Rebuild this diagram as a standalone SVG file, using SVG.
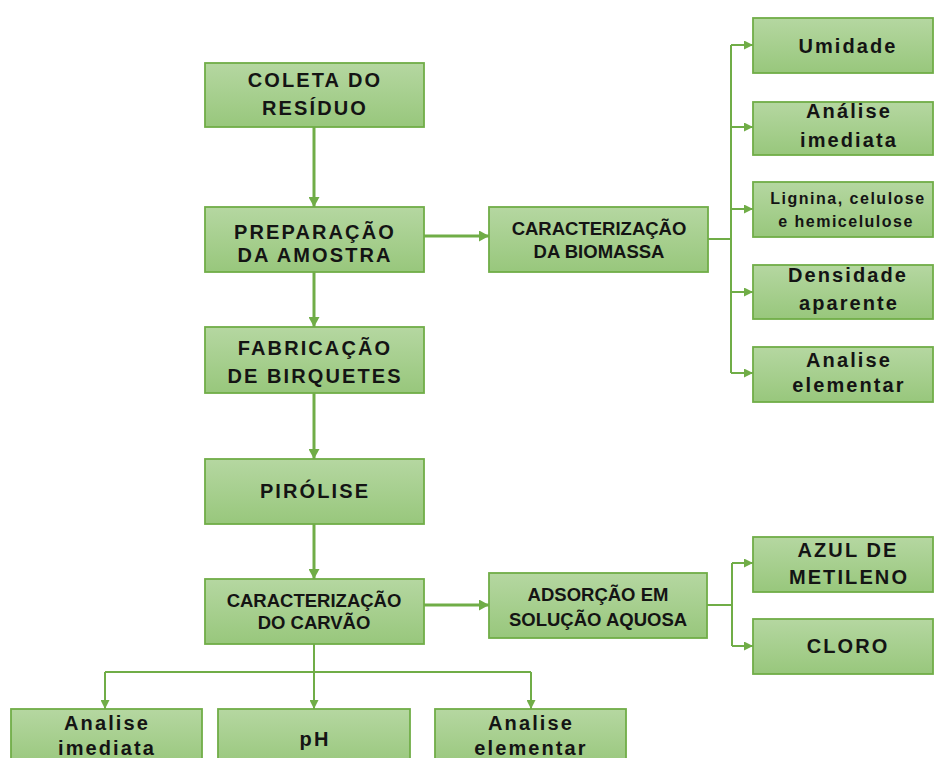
<svg xmlns="http://www.w3.org/2000/svg" width="934" height="758" viewBox="0 0 934 758">
<defs>
<linearGradient id="g" x1="0" y1="0" x2="0" y2="1">
<stop offset="0" stop-color="#b5d7a1"/>
<stop offset="1" stop-color="#98c77c"/>
</linearGradient>
<marker id="am" markerUnits="userSpaceOnUse" markerWidth="11" markerHeight="11" refX="10" refY="5.5" orient="auto">
<path d="M0,0 L10,5.5 L0,11 z" fill="#70ad47"/>
</marker>
<marker id="as" markerUnits="userSpaceOnUse" markerWidth="9" markerHeight="9" refX="9" refY="4.5" orient="auto">
<path d="M0,0 L9,4.5 L0,9 z" fill="#70ad47"/>
</marker>
</defs>
<style>
.box{fill:url(#g);stroke:#70ad47;stroke-width:1.8}
text{font-family:"Liberation Sans",Arial,sans-serif;font-weight:bold;fill:#141414;text-anchor:middle}
.sp{font-size:20px;letter-spacing:2.1px}
.ns{font-size:18.5px}
.sm{font-size:16px;letter-spacing:1.5px}
.main{fill:none;stroke:#70ad47;stroke-width:3;marker-end:url(#am)}
.br{fill:none;stroke:#70ad47;stroke-width:2}
.bra{fill:none;stroke:#70ad47;stroke-width:2;marker-end:url(#as)}
</style>
<rect width="934" height="758" fill="#ffffff"/>
<g id="connectors">
<line class="main" x1="314" y1="127" x2="314" y2="207"/>
<line class="main" x1="314" y1="272" x2="314" y2="327"/>
<line class="main" x1="314" y1="393" x2="314" y2="459"/>
<line class="main" x1="314" y1="524" x2="314" y2="579"/>
<line class="main" x1="424" y1="236" x2="489" y2="236"/>
<line class="main" x1="424" y1="605" x2="489" y2="605"/>
<polyline class="br" points="708,239 731,239"/>
<line class="br" x1="731" y1="45" x2="731" y2="373"/>
<line class="bra" x1="731" y1="45" x2="753" y2="45"/>
<line class="bra" x1="731" y1="127" x2="753" y2="127"/>
<line class="bra" x1="731" y1="209" x2="753" y2="209"/>
<line class="bra" x1="731" y1="292" x2="753" y2="292"/>
<line class="bra" x1="731" y1="373" x2="753" y2="373"/>
<polyline class="br" points="707,605 732,605"/>
<line class="br" x1="732" y1="563" x2="732" y2="646"/>
<line class="bra" x1="732" y1="563" x2="753" y2="563"/>
<line class="bra" x1="732" y1="646" x2="753" y2="646"/>
<line class="br" x1="314" y1="644" x2="314" y2="672"/>
<line class="br" x1="105" y1="672" x2="531" y2="672"/>
<line class="bra" x1="105" y1="672" x2="105" y2="709"/>
<line class="bra" x1="314" y1="672" x2="314" y2="709"/>
<line class="bra" x1="531" y1="672" x2="531" y2="709"/>
</g>
<g id="coleta"><rect class="box" x="205" y="63" width="219" height="64"/>
<text class="sp" x="315" y="87">COLETA DO</text><text class="sp" x="315" y="115">RESÍDUO</text></g>
<g id="preparacao"><rect class="box" x="205" y="207" width="219" height="65"/>
<text class="sp" x="315" y="239">PREPARAÇÃO</text><text class="sp" x="315" y="262">DA AMOSTRA</text></g>
<g id="fabricacao"><rect class="box" x="205" y="327" width="219" height="66"/>
<text class="sp" x="315" y="355">FABRICAÇÃO</text><text class="sp" x="315" y="383">DE BIRQUETES</text></g>
<g id="pirolise"><rect class="box" x="205" y="459" width="219" height="65"/>
<text class="sp" x="315" y="498">PIRÓLISE</text></g>
<g id="carvao"><rect class="box" x="205" y="579" width="219" height="65"/>
<text class="ns" x="314" y="607">CARACTERIZAÇÃO</text><text class="ns" x="314" y="629">DO CARVÃO</text></g>
<g id="biomassa"><rect class="box" x="489" y="207" width="219" height="65"/>
<text class="ns" x="599" y="235">CARACTERIZAÇÃO</text><text class="ns" x="599" y="258">DA BIOMASSA</text></g>
<g id="adsorcao"><rect class="box" x="489" y="573" width="218" height="65"/>
<text class="ns" x="598" y="601">ADSORÇÃO EM</text><text class="ns" x="598" y="626">SOLUÇÃO AQUOSA</text></g>
<g id="umidade"><rect class="box" x="753" y="18" width="180" height="55"/>
<text class="sp" x="848" y="53">Umidade</text></g>
<g id="analise-imediata-b"><rect class="box" x="753" y="102" width="180" height="53"/>
<text class="sp" x="849" y="118">Análise</text><text class="sp" x="849" y="147">imediata</text></g>
<g id="lignina"><rect class="box" x="753" y="182" width="180" height="55"/>
<text class="sm" x="848" y="204">Lignina, celulose</text><text class="sm" x="846" y="227">e hemicelulose</text></g>
<g id="densidade"><rect class="box" x="753" y="265" width="180" height="54"/>
<text class="sp" x="848" y="282">Densidade</text><text class="sp" x="849" y="310">aparente</text></g>
<g id="analise-elementar-b"><rect class="box" x="753" y="347" width="180" height="55"/>
<text class="sp" x="849" y="367">Analise</text><text class="sp" x="849" y="392">elementar</text></g>
<g id="azul"><rect class="box" x="753" y="537" width="180" height="55"/>
<text class="sp" x="848" y="557">AZUL DE</text><text class="sp" x="849" y="584">METILENO</text></g>
<g id="cloro"><rect class="box" x="753" y="619" width="180" height="55"/>
<text class="sp" x="848" y="653">CLORO</text></g>
<g id="analise-imediata-c"><rect class="box" x="11" y="709" width="191" height="58"/>
<text class="sp" x="107" y="730">Analise</text><text class="sp" x="107" y="755">imediata</text></g>
<g id="ph"><rect class="box" x="218" y="709" width="192" height="58"/>
<text class="sp" x="315" y="746">pH</text></g>
<g id="analise-elementar-c"><rect class="box" x="435" y="709" width="191" height="58"/>
<text class="sp" x="531" y="730">Analise</text><text class="sp" x="531" y="755">elementar</text></g>
</svg>
